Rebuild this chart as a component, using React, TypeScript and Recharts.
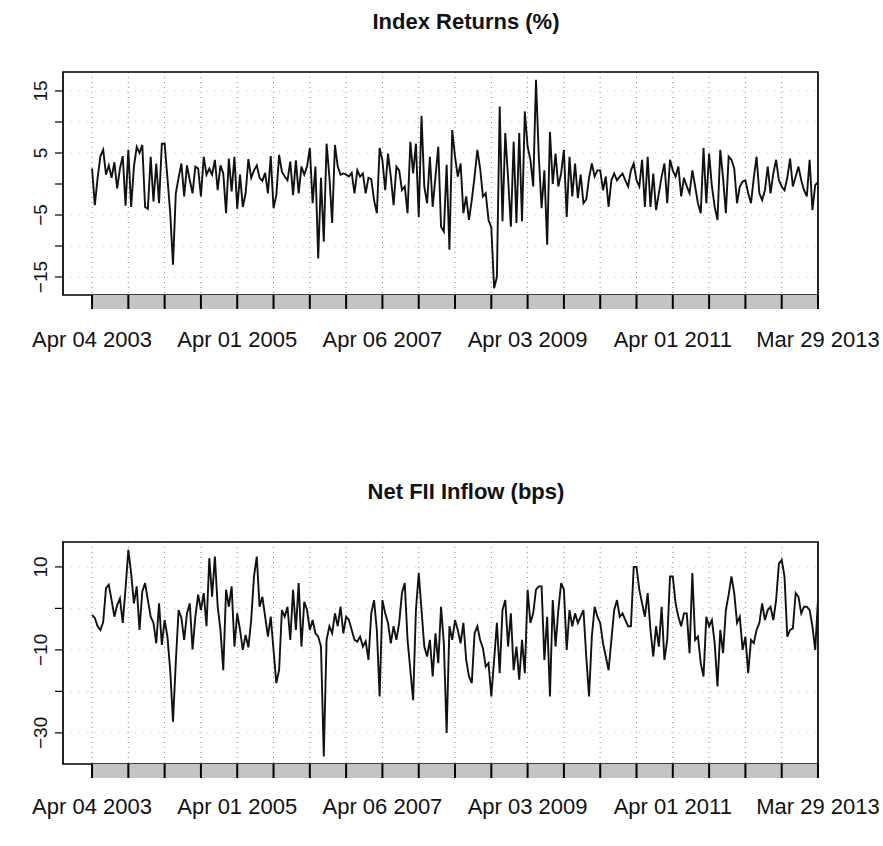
import { LineChart, Line, XAxis, YAxis, CartesianGrid, ReferenceArea } from 'recharts'

// two-week index returns in %, Apr 2003 .. Mar 2013
const indexReturns = [
  2.5, -3.4, 1, 4.5, 5.5, 1.5, 3, 1, 3.5, -0.7, 2.5, 4.5, -3.5,
  5.5, -3.7, 2.8, 6, 5, 6.3, -3.7, -4, 4.4, -2.8, 3.3, -3.1, 6.5,
  6.5, 1, -4.7, -13, -1.5, 1, 3.3, -2, 3, 0.6, -1.5, 2.8, 2.5,
  -2, 4.4, 1.5, 2.5, 1.5, 3.9, -1, 3, 1.7, -4.7, 4.1, -1.2, 4.4,
  -4, 1.5, -3.7, -1.5, 4, 1, 2.2, 3, 1, 0.5, 1.8, -1.5, 4.5,
  -3.9, -1.8, 4.7, 2, 1.2, 0.6, 3.6, -1.8, 3.8, -1.5, 2.8, 1.5, 2.8,
  5.8, -3.1, 2.8, -12, 1, -9.3, 6.5, 1.2, -6.3, 6.3, 2.8, 1.5, 1.7,
  1.5, 1.2, 1.8, -1.5, 2.2, 1.2, 1.7, -1.5, 1, 0.8, -2.6, -4.7, 5.8,
  3.8, -1, 4.9, 1.2, -3.4, 2.8, 2.2, -1, -0.4, -4.7, 6.8, 1.7, 6.5,
  -5.3, 11, -0.4, -3.1, 4.4, -3.7, 1.2, 6, -6.9, -7.7, 3.1, -10.6, 8.7,
  4.4, 1.2, 3.3, -4.7, -2, -5.8, -2.6, 1.2, 5.5, 2.5, -2, -1.5, -5.8,
  -7, -16.8, -15, 12.5, -6, 8.2, 1, -6.9, 6.8, -6.3, 8.2, -6, 11.7,
  6, 3.9, -0.4, 16.8, 4.5, -3.9, 2.2, -9.8, 8.4, 0, 4.9, -0.4, 1.7,
  5.5, -5.3, 4.4, -2, 3.3, -2.3, 1.5, -3.1, -2.5, 1, 3.3, 1.2, 2.2,
  2.2, -1, 1.2, -3.7, 0.6, 1.7, 0.6, 1.2, 1.7, 0.6, -0.4, 2.2, 3.3,
  0.6, -0.4, 3.9, -3.7, 4.4, -3.7, 1.7, -4.2, -1.5, 1.2, 3.3, -3.1, 3.9,
  2.2, 1.2, 2.8, -2, 1, -0.4, -1.5, 2.2, -0.4, -3.1, -4.7, 5.8, -3.1,
  4.9, -0.4, -3.7, -5.8, 5.5, 1, -4.7, 4.4, 3.9, 2.5, -3.1, -0.4, 0.4,
  0.6, -1.5, -3.1, 1, 4.4, -1.5, -2.6, -1, 2.8, -1.5, 1.7, 3.9, 0.6,
  -0.4, -1, 1, 4.1, -0.4, 1.2, 2.8, 0.6, -1, -2, 3.9, -4.2, -0.2,
  0.3,
]

// net FII inflow in bps, same periods
const fiiInflow = [
  -1.6, -2.3, -4.3, -5.2, -3.3, 4.9, 5.7, 2.0, -2.0, 0.8, 2.4, -3.5, 4.8,
  14.1, 8.5, 1.2, 5.3, -5.2, 4.1, 6.1, 2.0, -2.0, -3.5, -8.4, 1.2, -8.8,
  -2.8, -6.8, -14.9, -27.3, -12.9, -0.4, -2.3, -7.6, -1.2, 1.2, -9.9, -2.0, 3.3,
  -0.4, 3.7, -4.3, 12.1, 2.8, 12.5, 0.4, -5.2, -14.9, 4.5, 0.4, 5.3, -9.2,
  -1.2, -5.2, -10.0, -6.4, -9.4, -2.8, 7.7, 12.5, 0.4, 2.8, -2.0, -6.8, -2.0,
  -10.0, -18.0, -14.9, -0.4, -2.0, 0.4, -7.6, 4.5, -5.2, 6.1, -9.2, 1.6, -0.4,
  -5.2, -2.8, -6.0, -6.8, -9.2, -35.7, -7.6, -4.3, -6.0, -1.2, -4.3, 0.4, -6.0,
  -2.0, -2.8, -5.2, -7.6, -8.0, -6.8, -9.2, -7.9, -12.4, -1.2, 2.0, -5.2, -21.2,
  2.0, -1.2, -3.5, -8.4, -4.3, -7.6, -3.5, 3.7, 6.1, -7.6, -14.9, -22.1, -0.4,
  8.5, -0.4, -9.2, -11.6, -7.6, -16.4, -6.0, -13.2, 0.4, -8.4, -30.0, -4.3, -7.6,
  -2.8, -5.2, -8.4, -3.5, -12.4, -16.4, -18.0, -6.0, -4.3, -7.6, -9.6, -14.0, -13.2,
  -21.2, -12.4, -3.5, -15.6, -0.4, 2.0, -9.2, -1.2, -14.9, -9.2, -17.2, -7.6, -15.6,
  4.5, -3.5, -1.2, 4.5, 5.3, 5.3, -12.4, -2.0, -21.2, 2.0, -9.2, -0.4, 6.1,
  4.5, -10.0, -0.4, -4.3, -1.2, -3.5, -2.0, -0.4, -11.6, -21.2, -6.8, 0.4, -2.0,
  -3.5, -8.4, -11.6, -14.9, -7.6, -0.4, 2.0, -2.0, -1.2, -2.8, -4.3, -4.3, 10.0,
  10.0, 4.5, 1.2, -2.0, 3.7, -5.2, -11.6, -4.3, -9.2, 0.4, -12.4, -7.6, 7.7,
  7.7, 1.2, -2.0, -4.3, -1.2, -1.2, -10.8, 8.5, -7.6, -6.8, -13.2, -16.4, -2.0,
  -4.3, -2.8, -8.4, -18.8, -5.2, -10.8, -0.4, 3.3, 7.7, 3.7, -3.5, -2.0, -10.0,
  -6.8, -15.6, -7.6, -8.4, -5.2, -3.5, 1.2, -2.8, -0.4, 0.4, -2.8, 2.0, 10.8,
  11.7, 7.7, -6.8, -5.2, -4.8, 3.7, 2.8, -1.2, 0.4, 0.4, -0.4, -4.3, -10.0,
  2.2,
]

// half-year marks (period index) and the two-yearly date labels
const halfYearTicks = [0, 13, 26, 39, 52, 65, 78, 91, 104, 117, 130, 143, 156, 169, 182, 195, 208, 221, 234, 247, 260]
const dateLabels = ['Apr 04 2003', 'Apr 01 2005', 'Apr 06 2007', 'Apr 03 2009', 'Apr 01 2011', 'Mar 29 2013']

const returnTicks = [-15, -10, -5, 0, 5, 10, 15]
const returnLabels = [-15, -5, 5, 15]
const flowTicks = [-30, -20, -10, 0, 10]
const flowLabels = [-30, -10, 10]

const rows = indexReturns.map((r, i) => ({ t: i, ret: r, flow: fiiInflow[i] }))

const FONT = '"Liberation Sans", Arial, Helvetica, sans-serif'
const X_MIN = -10.4
const X_MAX = 260
const PLOT_W = 755
const PX_PER_T = PLOT_W / (X_MAX - X_MIN)

const minus = (v: number) => (v < 0 ? '\u2212' + Math.abs(v) : String(v))

function BandTick(props: any) {
  const { x, y, payload } = props
  const k = halfYearTicks.indexOf(payload.value)
  const last = k === halfYearTicks.length - 1
  const w = last ? 0 : (halfYearTicks[k + 1] - halfYearTicks[k]) * PX_PER_T
  return (
    <g>
      {!last && <rect x={x} y={y} width={w} height={14} fill="#c4c4c4" />}
      <line x1={x} x2={x} y1={y} y2={y + 14} stroke="#000" strokeWidth={2} />
      {k % 4 === 0 && (
        <text
          x={x}
          y={y + props.labelGap}
          textAnchor="middle"
          dominantBaseline="central"
          fontSize={22}
          fontFamily={FONT}
          fill="#111"
        >
          {dateLabels[k / 4]}
        </text>
      )}
    </g>
  )
}

function SideTick(props: any) {
  const { x, y, payload, shown } = props
  if (!shown.includes(payload.value)) return <g />
  return (
    <text
      transform={`translate(${x - 15},${y}) rotate(-90)`}
      textAnchor="middle"
      dominantBaseline="central"
      fontSize={19}
      fontFamily={FONT}
      fill="#111"
    >
      {minus(payload.value)}
    </text>
  )
}

function Panel(props: {
  title: string
  dataKey: string
  height: number
  domain: [number, number]
  ticks: number[]
  labels: number[]
  bottom: number
  labelGap: number
}) {
  const { title, dataKey, height, domain, ticks, labels, bottom, labelGap } = props
  return (
    <div style={{ position: 'relative', width: 883, height }}>
      <div
        style={{
          position: 'absolute',
          top: 8,
          left: 266,
          width: 400,
          textAlign: 'center',
          fontFamily: FONT,
          fontWeight: 'bold',
          fontSize: 22,
          lineHeight: '28px',
          color: '#111',
        }}
      >
        {title}
      </div>
      <LineChart width={883} height={height} data={rows} margin={{ top: 72, right: 65, bottom, left: 0 }}>
        <CartesianGrid horizontal={false} stroke="#8a8a8a" strokeDasharray="1 4" />
        <CartesianGrid vertical={false} stroke="#c8c8c8" strokeDasharray="1 7" />
        <XAxis
          dataKey="t"
          type="number"
          domain={[X_MIN, X_MAX]}
          allowDataOverflow
          ticks={halfYearTicks}
          interval={0}
          height={60}
          axisLine={false}
          tickLine={false}
          tickSize={0}
          tickMargin={0}
          tick={<BandTick labelGap={labelGap} />}
        />
        <YAxis
          type="number"
          domain={domain}
          allowDataOverflow
          ticks={ticks}
          interval={0}
          width={63}
          axisLine={false}
          tickLine={{ stroke: '#000', strokeWidth: 1.2 }}
          tickSize={8}
          tickMargin={0}
          tick={<SideTick shown={labels} />}
        />
        <Line
          type="linear"
          dataKey={dataKey}
          stroke="#111"
          strokeWidth={1.9}
          dot={false}
          isAnimationActive={false}
        />
        <ReferenceArea
          x1={X_MIN}
          x2={X_MAX}
          y1={domain[0]}
          y2={domain[1]}
          fill="none"
          fillOpacity={0}
          stroke="#000"
          strokeWidth={1.7}
          ifOverflow="visible"
        />
      </LineChart>
    </div>
  )
}

export default function App() {
  return (
    <div style={{ position: 'absolute', left: 0, top: 0, width: 883, height: 846, background: '#fff' }}>
      <Panel
        title="Index Returns (%)"
        dataKey="ret"
        height={470}
        domain={[-17.9, 18.06]}
        ticks={returnTicks}
        labels={returnLabels}
        bottom={115}
        labelGap={44}
      />
      <Panel
        title="Net FII Inflow (bps)"
        dataKey="flow"
        height={376}
        domain={[-37.5, 16.0]}
        ticks={flowTicks}
        labels={flowLabels}
        bottom={22}
        labelGap={42}
      />
    </div>
  )
}
